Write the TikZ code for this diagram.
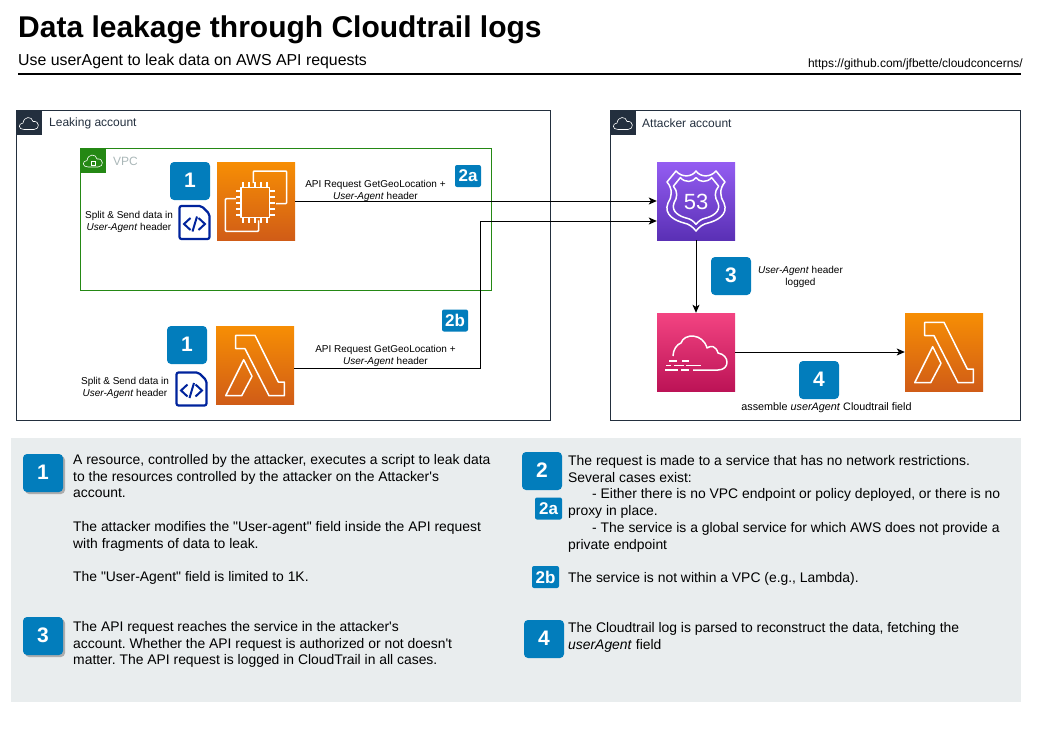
\documentclass[tikz,border=0pt]{standalone}
\usepackage{fontspec}
\setmainfont[Ligatures=TeXOff]{Liberation Sans}
\usetikzlibrary{shadows,arrows.meta}
\definecolor{awsdark}{HTML}{232F3E}
\definecolor{awsblue}{HTML}{027DBC}
\definecolor{awsgreen}{HTML}{248814}
\definecolor{docblue}{HTML}{00239C}
\definecolor{panelgrey}{HTML}{E9EDEE}
\definecolor{vpcgrey}{HTML}{AAB7B8}
\definecolor{computetop}{HTML}{F78E04}
\definecolor{computeend}{HTML}{D05C17}
\definecolor{routetop}{HTML}{945DF2}
\definecolor{routeend}{HTML}{5A30B5}
\definecolor{trailtop}{HTML}{F34482}
\definecolor{trailend}{HTML}{BC1356}
\frenchspacing
\tikzset{
	account/.style={draw=awsdark, line width=1pt},
	tagbox/.style={minimum size=25pt, inner sep=0pt},
	icon/.style={minimum size=78pt, inner sep=0pt},
	computeicon/.style={icon, top color=computetop, bottom color=computeend},
	badge/.style={fill=awsblue, rounded corners=4pt, text=white, inner sep=0pt, minimum width=40pt, minimum height=38pt, text height=15pt, text depth=3pt, font=\fontsize{21}{21}\selectfont\bfseries},
	smallbadge/.style={fill=awsblue, rounded corners=2pt, text=white, inner sep=0pt, minimum width=27pt, minimum height=22pt, font=\fontsize{17}{17}\selectfont\bfseries},
	shadowbadge/.style={badge, drop shadow={shadow xshift=2pt, shadow yshift=-2pt, fill=black!32, opacity=1}},
	smalltext/.style={inner sep=0pt, align=center, font=\fontsize{10}{11.5}\selectfont},
	paneltext/.style={inner sep=0pt, anchor=north west, align=left, font=\fontsize{13.9}{16.8}\selectfont},
	link/.style={draw=black, line width=1pt, -{Stealth[length=8pt, width=7pt, inset=2pt]}},
	glyph/.style={draw=white, line width=1.5pt, line join=round, fill=none},
	pics/lambdaglyph/.style={code={
		\draw[glyph] (-19.3,-29.7) -- (0,-29.7) -- (23.3,17) -- (29.3,17) -- (29.3,30.7) -- (14,30.7) -- (-10,-16.3) -- (-19.3,-16.3) -- cycle;
		\draw[glyph] (-11.3,-5.3) -- (-3,11.3) -- (-13.3,30.7) -- (-29.3,30.7) -- cycle;
	}},
	pics/chipglyph/.style={code={
		\draw[glyph] (-15,-13.5) rectangle (13.5,16.5);
		\draw[glyph, rounded corners=1pt] (-2.7,-18) -- (-2.7,-30) -- (30.7,-30) -- (30.7,2.7) -- (20,2.7);
		\draw[glyph, rounded corners=1pt] (-20,-2.3) -- (-30.7,-2.3) -- (-30.7,30.3) -- (2.7,30.3) -- (2.7,19.3);
		\foreach \p in {-13,-7,-1,5,11} {
			\draw[glyph] (\p,-13.5) -- (\p,-19);
			\draw[glyph] (\p,16.5) -- (\p,22);
		}
		\foreach \p in {-10,-4,2,8,14} {
			\draw[glyph] (-15,\p) -- (-20.5,\p);
			\draw[glyph] (13.5,\p) -- (19,\p);
		}
	}},
	pics/shieldglyph/.style={code={
		\foreach \s in {1,0.78} {
			\draw[glyph, scale=\s] (0,-30) .. controls (-4,-24) and (-14,-23) .. (-20,-30) -- (-29,-19) .. controls (-23,-12) and (-24,-4) .. (-28,2) .. controls (-33,14) and (-20,20) .. (-12,22) .. controls (-7,23) and (-3,26) .. (0,30) .. controls (3,26) and (7,23) .. (12,22) .. controls (20,20) and (33,14) .. (28,2) .. controls (24,-4) and (23,-12) .. (29,-19) -- (20,-30) .. controls (14,-23) and (4,-24) .. (0,-30) -- cycle;
		}
	}},
	pics/trailglyph/.style={code={
		\draw[glyph] (-23,4) .. controls (-23,-2) and (-19,-8) .. (-15,-9) .. controls (-12,-19) and (7,-19) .. (11,-4) .. controls (15,-7) and (20,-6) .. (22,1) .. controls (34,3) and (34,18) .. (22,18) -- (-3,18);
		\draw[glyph] (-27,9) -- (-19,9) (-14,9) -- (-7,9);
		\draw[glyph] (-30,13.5) -- (-25,13.5) (-22,13.5) -- (-12,13.5) (-10,13.5) -- (5,13.5);
		\draw[glyph] (-31,18) -- (-18,18) (-15,18) -- (-7,18);
	}},
	pics/docglyph/.style={code={
		\draw[draw=docblue, line width=2.2pt, rounded corners=2pt, line join=round] (-15,-16.5) -- (7,-16.5) -- (15,-8.5) -- (15,16.5) -- (-15,16.5) -- cycle;
		\draw[draw=docblue, line width=2pt] (-4,-4.5) -- (-10.5,1.5) -- (-4,7.5) (4,-4.5) -- (10.5,1.5) -- (4,7.5) (2.5,-6) -- (-2,9);
	}},
	pics/cloudglyph/.style={code={
		\draw[draw=white, line width=0.6pt] (-5,6.5) .. controls (-11,6.5) and (-11,0.5) .. (-6,0) .. controls (-5,-7) and (3,-7) .. (4,-1.5) .. controls (11,-2.5) and (11,6.5) .. (5,6.5) -- cycle;
	}},
}
\begin{document}
\begin{tikzpicture}[x=1pt, y=-1pt]
	\useasboundingbox (0,0) rectangle (1041,733);
	\node[anchor=base west, inner sep=0pt, font=\fontsize{30}{30}\selectfont\bfseries] (title) at (18,37.5) {Data leakage through Cloudtrail logs};
	\node[anchor=base west, inner sep=0pt, font=\fontsize{15.87}{16}\selectfont] (subtitle) at (18,66) {Use userAgent to leak data on AWS API requests};
	\node[anchor=base east, inner sep=0pt, font=\fontsize{12}{12}\selectfont] (repolink) at (1023,68) {https://github.com/jfbette/cloudconcerns/};
	\draw[draw=black, line width=2pt] (18,74.5) -- (1021,74.5);

	\draw[account] (16.5,110.5) rectangle (550.5,420);
	\node[tagbox, fill=awsdark] (leaktag) at (29,123) {};
	\pic at (leaktag.center) {cloudglyph};
	\node[anchor=west, inner sep=0pt, text=awsdark, font=\fontsize{12}{12}\selectfont] (leaklabel) at (49,123.5) {Leaking account};
	\draw[draw=awsgreen, line width=1pt] (80.5,148) rectangle (491,290.5);
	\node[tagbox, fill=awsgreen] (vpctag) at (93,160.5) {};
	\pic at (vpctag.center) {cloudglyph};
	\draw[draw=white, line width=0.6pt] (vpctag.center) ++(-2,1) rectangle ++(4,3.5);
	\node[anchor=west, inner sep=0pt, text=vpcgrey, font=\fontsize{12}{12}\selectfont] (vpclabel) at (113,161) {VPC};

	\draw[account] (610.5,110.5) rectangle (1020.5,420);
	\node[tagbox, fill=awsdark] (attacktag) at (623,123) {};
	\pic at (attacktag.center) {cloudglyph};
	\node[anchor=west, inner sep=0pt, text=awsdark, font=\fontsize{12}{12}\selectfont] (attacklabel) at (642,123.5) {Attacker account};

	\node[computeicon] (ec2) at (256,201) {};
	\pic at (ec2.center) {chipglyph};
	\node[computeicon] (lambdaleft) at (255,365) {};
	\pic at (lambdaleft.center) {lambdaglyph};
	\node[computeicon] (lambdaright) at (944,352) {};
	\pic at (lambdaright.center) {lambdaglyph};
	\node[icon, top color=routetop, bottom color=routeend] (route53) at (696,201) {};
	\pic at (route53.center) {shieldglyph};
	\node[inner sep=0pt, text=white, font=\fontsize{22}{22}\selectfont] (route53num) at (696,202) {53};
	\node[icon, top color=trailtop, bottom color=trailend] (trail) at (696,352) {};
	\pic at (trail.center) {trailglyph};

	\node[badge] (stepa) at (190,181) {1};
	\pic at (194.5,222.5) {docglyph};
	\node[smalltext] (splita) at (129,222) {Split \& Send data in\\\textit{User-Agent} header};
	\node[badge] (stepb) at (187,345) {1};
	\pic at (191.5,389) {docglyph};
	\node[smalltext] (splitb) at (125,388) {Split \& Send data in\\\textit{User-Agent} header};
	\node[smallbadge, minimum width=26pt] (tagtwoa) at (468,176) {2a};
	\node[smallbadge, minimum width=26pt] (tagtwob) at (455,320.5) {2b};
	\node[badge] (stepc) at (731,276) {3};
	\node[badge] (stepd) at (819,380) {4};

	\node[smalltext] (requesta) at (375.5,191) {API Request GetGeoLocation +\\\textit{User-Agent} header};
	\node[smalltext] (requestb) at (385.5,356) {API Request GetGeoLocation +\\\textit{User-Agent} header};
	\node[smalltext] (logged) at (800.5,277) {\textit{User-Agent} header\\logged};
	\node[smalltext, font=\fontsize{10.8}{12}\selectfont] (assemble) at (826.5,408) {assemble \textit{userAgent} Cloudtrail field};

	\coordinate (bendlow) at (480.5,368);
	\coordinate (bendhigh) at (480.5,221);
	\draw[link] (ec2.east) -- (route53.west);
	\draw[link] ([yshift=-3pt]lambdaleft.east) -- (bendlow) -- (bendhigh) -- ([yshift=-20pt]route53.west);
	\draw[link] (route53.south) -- (trail.north);
	\draw[link] (trail.east) -- (lambdaright.west);

	\node[anchor=north west, inner sep=0pt, minimum width=1010pt, minimum height=264pt, fill=panelgrey] (panel) at (11,438) {};
	\node[shadowbadge] (notea) at (43,473) {1};
	\node[badge] (noteb) at (542,471) {2};
	\node[smallbadge] (notetwoa) at (548.5,508.5) {2a};
	\node[smallbadge] (notetwob) at (545.5,577) {2b};
	\node[shadowbadge] (notec) at (43,636) {3};
	\node[badge] (noted) at (544,639) {4};

	\node[paneltext] (textone) at (73,454) {A resource, controlled by the attacker, executes a script to leak data\\to the resources controlled by the attacker on the Attacker's\\account.\\[16.8pt]The attacker modifies the "User-agent" field inside the API request\\with fragments of data to leak.\\[16.8pt]The "User-Agent" field is limited to 1K.};
	\node[paneltext] (texttwo) at (568,455) {The request is made to a service that has no network restrictions.\\Several cases exist:\\\hspace*{24pt}- Either there is no VPC endpoint or policy deployed, or there is no\\proxy in place.\\\hspace*{24pt}- The service is a global service for which AWS does not provide a\\private endpoint};
	\node[paneltext] (texttwob) at (568,572) {The service is not within a VPC (e.g., Lambda).};
	\node[paneltext] (textthree) at (73,621) {The API request reaches the service in the attacker's\\account. Whether the API request is authorized or not doesn't\\matter. The API request is logged in CloudTrail in all cases.};
	\node[paneltext] (textfour) at (568,622) {The Cloudtrail log is parsed to reconstruct the data, fetching the\\\textit{userAgent} field};
\end{tikzpicture}
\end{document}
